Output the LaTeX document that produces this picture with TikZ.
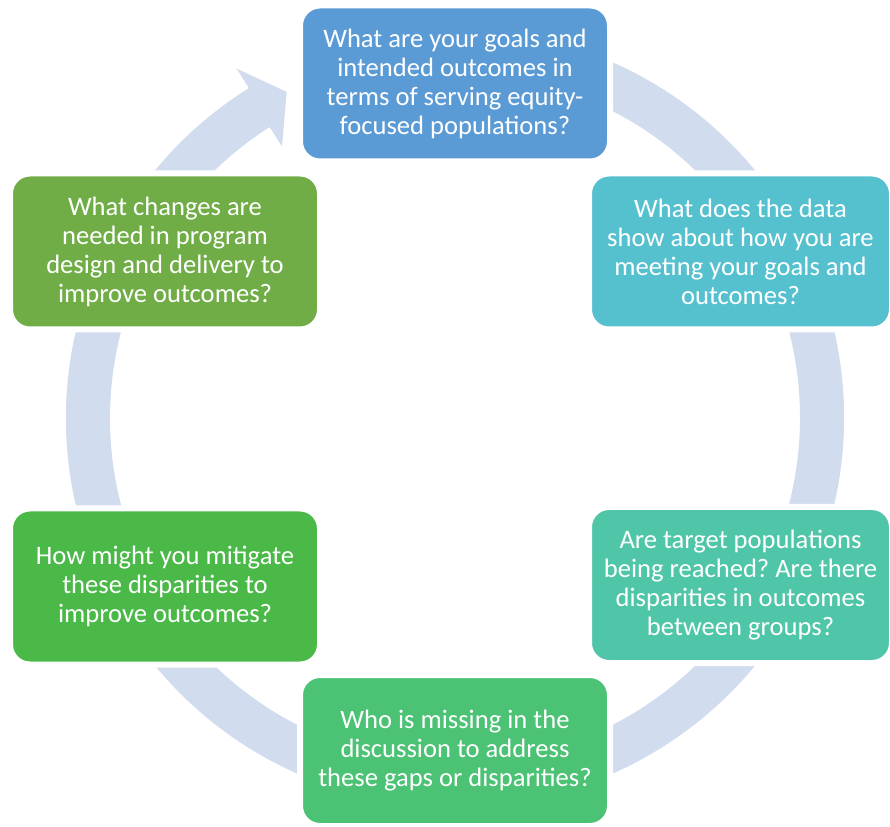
\documentclass[tikz,border=0pt]{standalone}
\usepackage{fontspec}
\setmainfont{Carlito}
\usepackage{xcolor}
\usepackage{tikz}
\frenchspacing

\definecolor{ringblue}{HTML}{D1DCEF}
\definecolor{qblue}{HTML}{5B9BD5}
\definecolor{qcyan}{HTML}{55C1CF}
\definecolor{qteal}{HTML}{4FC6A8}
\definecolor{qmint}{HTML}{4CC274}
\definecolor{qgreen}{HTML}{4AB948}
\definecolor{qolive}{HTML}{70AD47}

\begin{document}
\begin{tikzpicture}[x=0.5pt, y=0.5pt]
  % Define styles
  \tikzstyle{question} = [rectangle, rounded corners=10pt, draw=white, line width=3pt,
    minimum width=155pt, minimum height=78pt, align=center, text=white,
    font=\fontsize{13.3}{14.5}\selectfont, inner sep=0pt]
  \tikzstyle{ring} = [fill=ringblue]

  \useasboundingbox (0,0) rectangle (890,826);

  % Ring with arrow head
  \begin{scope}[shift={(455,408)}]
    \fill[ring] (75:389) arc[start angle=75, end angle=-238, radius=389]
      -- (122:412) -- (117.3:367) -- (122.5:322) -- (122.5:345)
      arc[start angle=-237.5, end angle=75, radius=345] -- cycle;
  \end{scope}

  % Nodes
  \node[question, fill=qblue] (goals) at (455,742.5)
    {What are your goals and\\intended outcomes in\\terms of serving equity-\\focused populations?};
  \node[question, fill=qcyan, minimum width=151.5pt] (data) at (740.5,574.5)
    {What does the data\\show about how you are\\meeting your goals and\\outcomes?};
  \node[question, fill=qteal, minimum width=151.5pt] (reach) at (740.5,241)
    {Are target populations\\being reached? Are there\\disparities in outcomes\\between groups?};
  \node[question, fill=qmint, minimum height=75.5pt] (missing) at (455,75.5)
    {Who is missing in the\\discussion to address\\these gaps or disparities?};
  \node[question, fill=qgreen] (mitigate) at (165,239.5)
    {How might you mitigate\\these disparities to\\improve outcomes?};
  \node[question, fill=qolive] (changes) at (165,574.5)
    {What changes are\\needed in program\\design and delivery to\\improve outcomes?};
\end{tikzpicture}
\end{document}
